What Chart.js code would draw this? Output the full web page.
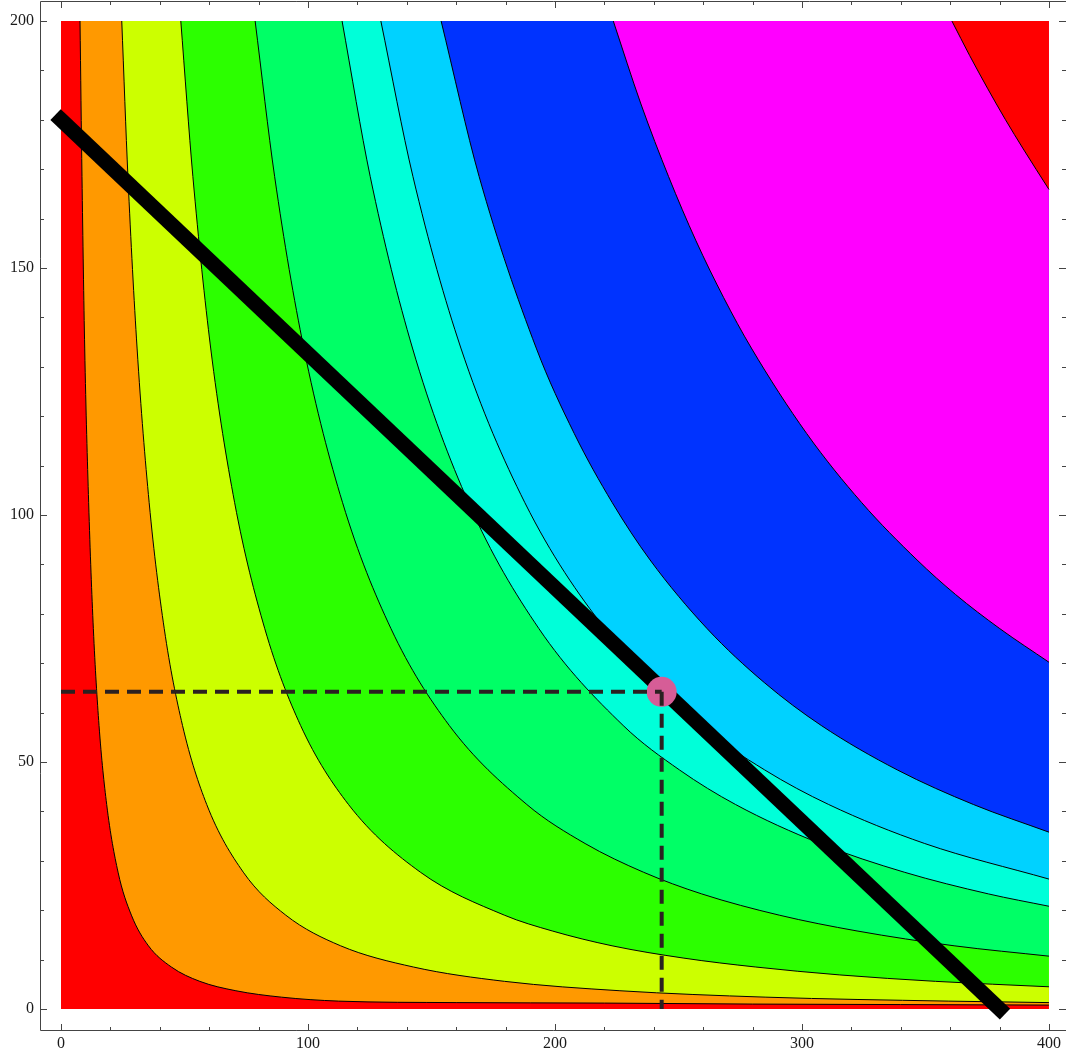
<!DOCTYPE html>
<html>
<head>
<meta charset="utf-8">
<title>Indifference curves and budget line</title>
<script src="https://cdn.jsdelivr.net/npm/chart.js@4.4.1/dist/chart.umd.min.js"></script>
<style>
body{margin:0;background:#fff;}
canvas{display:block;}
</style>
</head>
<body>
<canvas id="chart" width="1066" height="1057"></canvas>
<script>

// contour boundaries, lowest level first, [x, y]
let c1=[[7.7,200],[8.5,168.5],[9.6,133.8],[11.2,102.5],[13.1,77.0],[15.4,57.4],[18.5,41.4],[23.1,27.7],[28.5,19.0],[35.4,12.8],[44.7,8.5],[56.2,5.6],[70.8,3.7],[89.3,2.4],[112.4,1.6],[160,1.3],[220,1.2],[280,1.0],[340,0.9],[400,0.8]];
let c2=[[24.6,200],[27.1,168.5],[30.8,133.8],[35.7,102.5],[41.8,77.0],[49.2,57.4],[59.0,41.4],[73.8,27.7],[91.0,19.0],[113.2,12.8],[142.7,8.5],[179.6,5.6],[226.3,3.7],[285.4,2.4],[359.2,1.6],[400,1.3]];
let c3=[[48.5,200],[53.4,168.5],[60.6,133.8],[70.3,102.5],[82.5,77.0],[97.0,57.4],[116.4,41.4],[145.5,27.7],[179.5,19.0],[198.9,15.8],[223.1,12.8],[252.2,10.3],[281.3,8.5],[315.3,6.9],[354.1,5.6],[400,4.5]];
let c4=[[78.6,200],[86.5,168.5],[98.3,133.8],[114.0,102.5],[133.6,77.0],[157.2,57.4],[188.6,41.4],[212.2,33.5],[235.8,27.7],[259.4,23.3],[290.8,19.0],[322.3,15.8],[361.6,12.8],[400,10.7]];
let c5=[[113.8,200],[125.2,168.5],[142.3,133.8],[165.0,102.5],[193.5,77.0],[227.6,57.4],[250.4,48.4],[273.1,41.4],[307.3,33.5],[341.4,27.7],[375.5,23.3],[400,20.8]];
let c6=[[129.5,200],[142.5,168.5],[161.9,133.8],[187.8,102.5],[220.2,77.0],[259.0,57.4],[284.9,48.4],[310.8,41.4],[349.7,33.5],[400,26.3]];
let c7=[[153.9,200],[169.3,168.5],[192.4,133.8],[207.8,116.5],[223.2,102.5],[238.5,90.9],[261.6,77.0],[284.7,66.1],[307.8,57.4],[338.6,48.4],[369.4,41.4],[400,35.8]];
let c8=[[223.6,200],[234.8,183.2],[246.0,168.5],[257.1,155.5],[268.3,144.0],[279.5,133.8],[301.9,116.5],[324.2,102.5],[346.6,90.9],[362.2,83.9],[380.1,77.0],[400,70.2]];
let c9=[[360.7,200],[367.9,193.0],[375.1,186.4],[382.3,180.1],[389.6,174.1],[400,165.9]];

// band below c1, then the band above each curve
let bandColors=["#ff0000","#ff9900","#ccff00","#2cff00","#00ff66","#00ffd9","#00d2ff","#0033ff","#ff00ff","#ff0000"];

let budgetLine=[[0,180],[380,0]];
let optimum=[243.2,64.2];

let xRange=[0,400];
let yRange=[0,200];
let xTicks=[0,100,200,300,400];
let yTicks=[0,50,100,150,200];
let xMinorStep=20;
let yMinorStep=10;

let contours=[c1,c2,c3,c4,c5,c6,c7,c8,c9];

function toPoints(arr){
return arr.map(p=>({x:p[0],y:p[1]}));
}

let datasets=[];

datasets.push({
data:[{x:xRange[0],y:yRange[0]},{x:xRange[1],y:yRange[0]}],
borderWidth:0,
backgroundColor:bandColors[0],
fill:{value:yRange[1]},
pointRadius:0,
order:20
});

contours.forEach((c,i)=>{
datasets.push({
data:toPoints(c),
borderColor:"#000",
borderWidth:1,
backgroundColor:bandColors[i+1],
fill:{value:yRange[1]},
pointRadius:0,
cubicInterpolationMode:"monotone",
order:19-i
});
});

datasets.push({
data:toPoints(budgetLine),
borderColor:"#000",
borderWidth:15,
borderCapStyle:"square",
fill:false,
pointRadius:0,
order:3
});

datasets.push({
data:[{x:optimum[0],y:optimum[1]}],
showLine:false,
pointRadius:15,
pointBackgroundColor:"#d65d97",
pointBorderWidth:0,
order:2
});

datasets.push({
data:[{x:xRange[0],y:optimum[1]},{x:optimum[0],y:optimum[1]}],
borderColor:"#2b2121",
borderWidth:4,
borderDash:[14,8],
fill:false,
pointRadius:0,
order:1
});

datasets.push({
data:[{x:optimum[0],y:optimum[1]},{x:optimum[0],y:yRange[0]}],
borderColor:"#2b2121",
borderWidth:4,
borderDash:[14,8],
fill:false,
pointRadius:0,
order:1
});

// frame with inward ticks on all four sides, labels on bottom and left
let framePlugin={
id:"frame",
afterDatasetsDraw(chart){
let ctx=chart.ctx;
let a=chart.chartArea;
let xs=chart.scales.x;
let ys=chart.scales.y;
ctx.save();
ctx.strokeStyle="#444";
ctx.lineWidth=1;
ctx.beginPath();
ctx.moveTo(a.right,a.top+0.5);
ctx.lineTo(a.left+0.5,a.top+0.5);
ctx.lineTo(a.left+0.5,a.bottom-0.5);
ctx.lineTo(a.right,a.bottom-0.5);
for(let v=xRange[0];v<=xRange[1];v+=xMinorStep){
let px=Math.round(xs.getPixelForValue(v))+0.5;
let len=xTicks.includes(v)?7:4;
ctx.moveTo(px,a.bottom);
ctx.lineTo(px,a.bottom-len);
ctx.moveTo(px,a.top);
ctx.lineTo(px,a.top+len);
}
for(let v=yRange[0];v<=yRange[1];v+=yMinorStep){
let py=Math.round(ys.getPixelForValue(v))+0.5;
let len=yTicks.includes(v)?7:4;
ctx.moveTo(a.left,py);
ctx.lineTo(a.left+len,py);
ctx.moveTo(a.right,py);
ctx.lineTo(a.right-len,py);
}
ctx.stroke();

ctx.fillStyle="#1a1a1a";
ctx.font="16px 'Liberation Serif'";
ctx.textAlign="center";
ctx.textBaseline="middle";
xTicks.forEach(v=>{
ctx.fillText(String(v),xs.getPixelForValue(v),a.bottom+13);
});
ctx.textAlign="right";
yTicks.forEach(v=>{
ctx.fillText(String(v),a.left-6,ys.getPixelForValue(v));
});
ctx.restore();
}
};

let ctx=document.getElementById("chart").getContext("2d");

let chart=new Chart(ctx,{
type:"line",
data:{datasets:datasets},
options:{
responsive:false,
devicePixelRatio:1,
animation:false,
events:[],
layout:{autoPadding:false,padding:{top:1,right:0,left:0,bottom:0}},
plugins:{
legend:{display:false},
tooltip:{enabled:false}
},
scales:{
x:{
type:"linear",
min:-8.5,
max:406.9,
afterFit:s=>{s.height=26;},
grid:{display:false,drawTicks:false},
border:{display:false},
ticks:{display:false}
},
y:{
type:"linear",
min:-4.45,
max:204.05,
afterFit:s=>{s.width=40;},
grid:{display:false,drawTicks:false},
border:{display:false},
ticks:{display:false}
}
}
},
plugins:[framePlugin]
});

</script>
</body>
</html>
